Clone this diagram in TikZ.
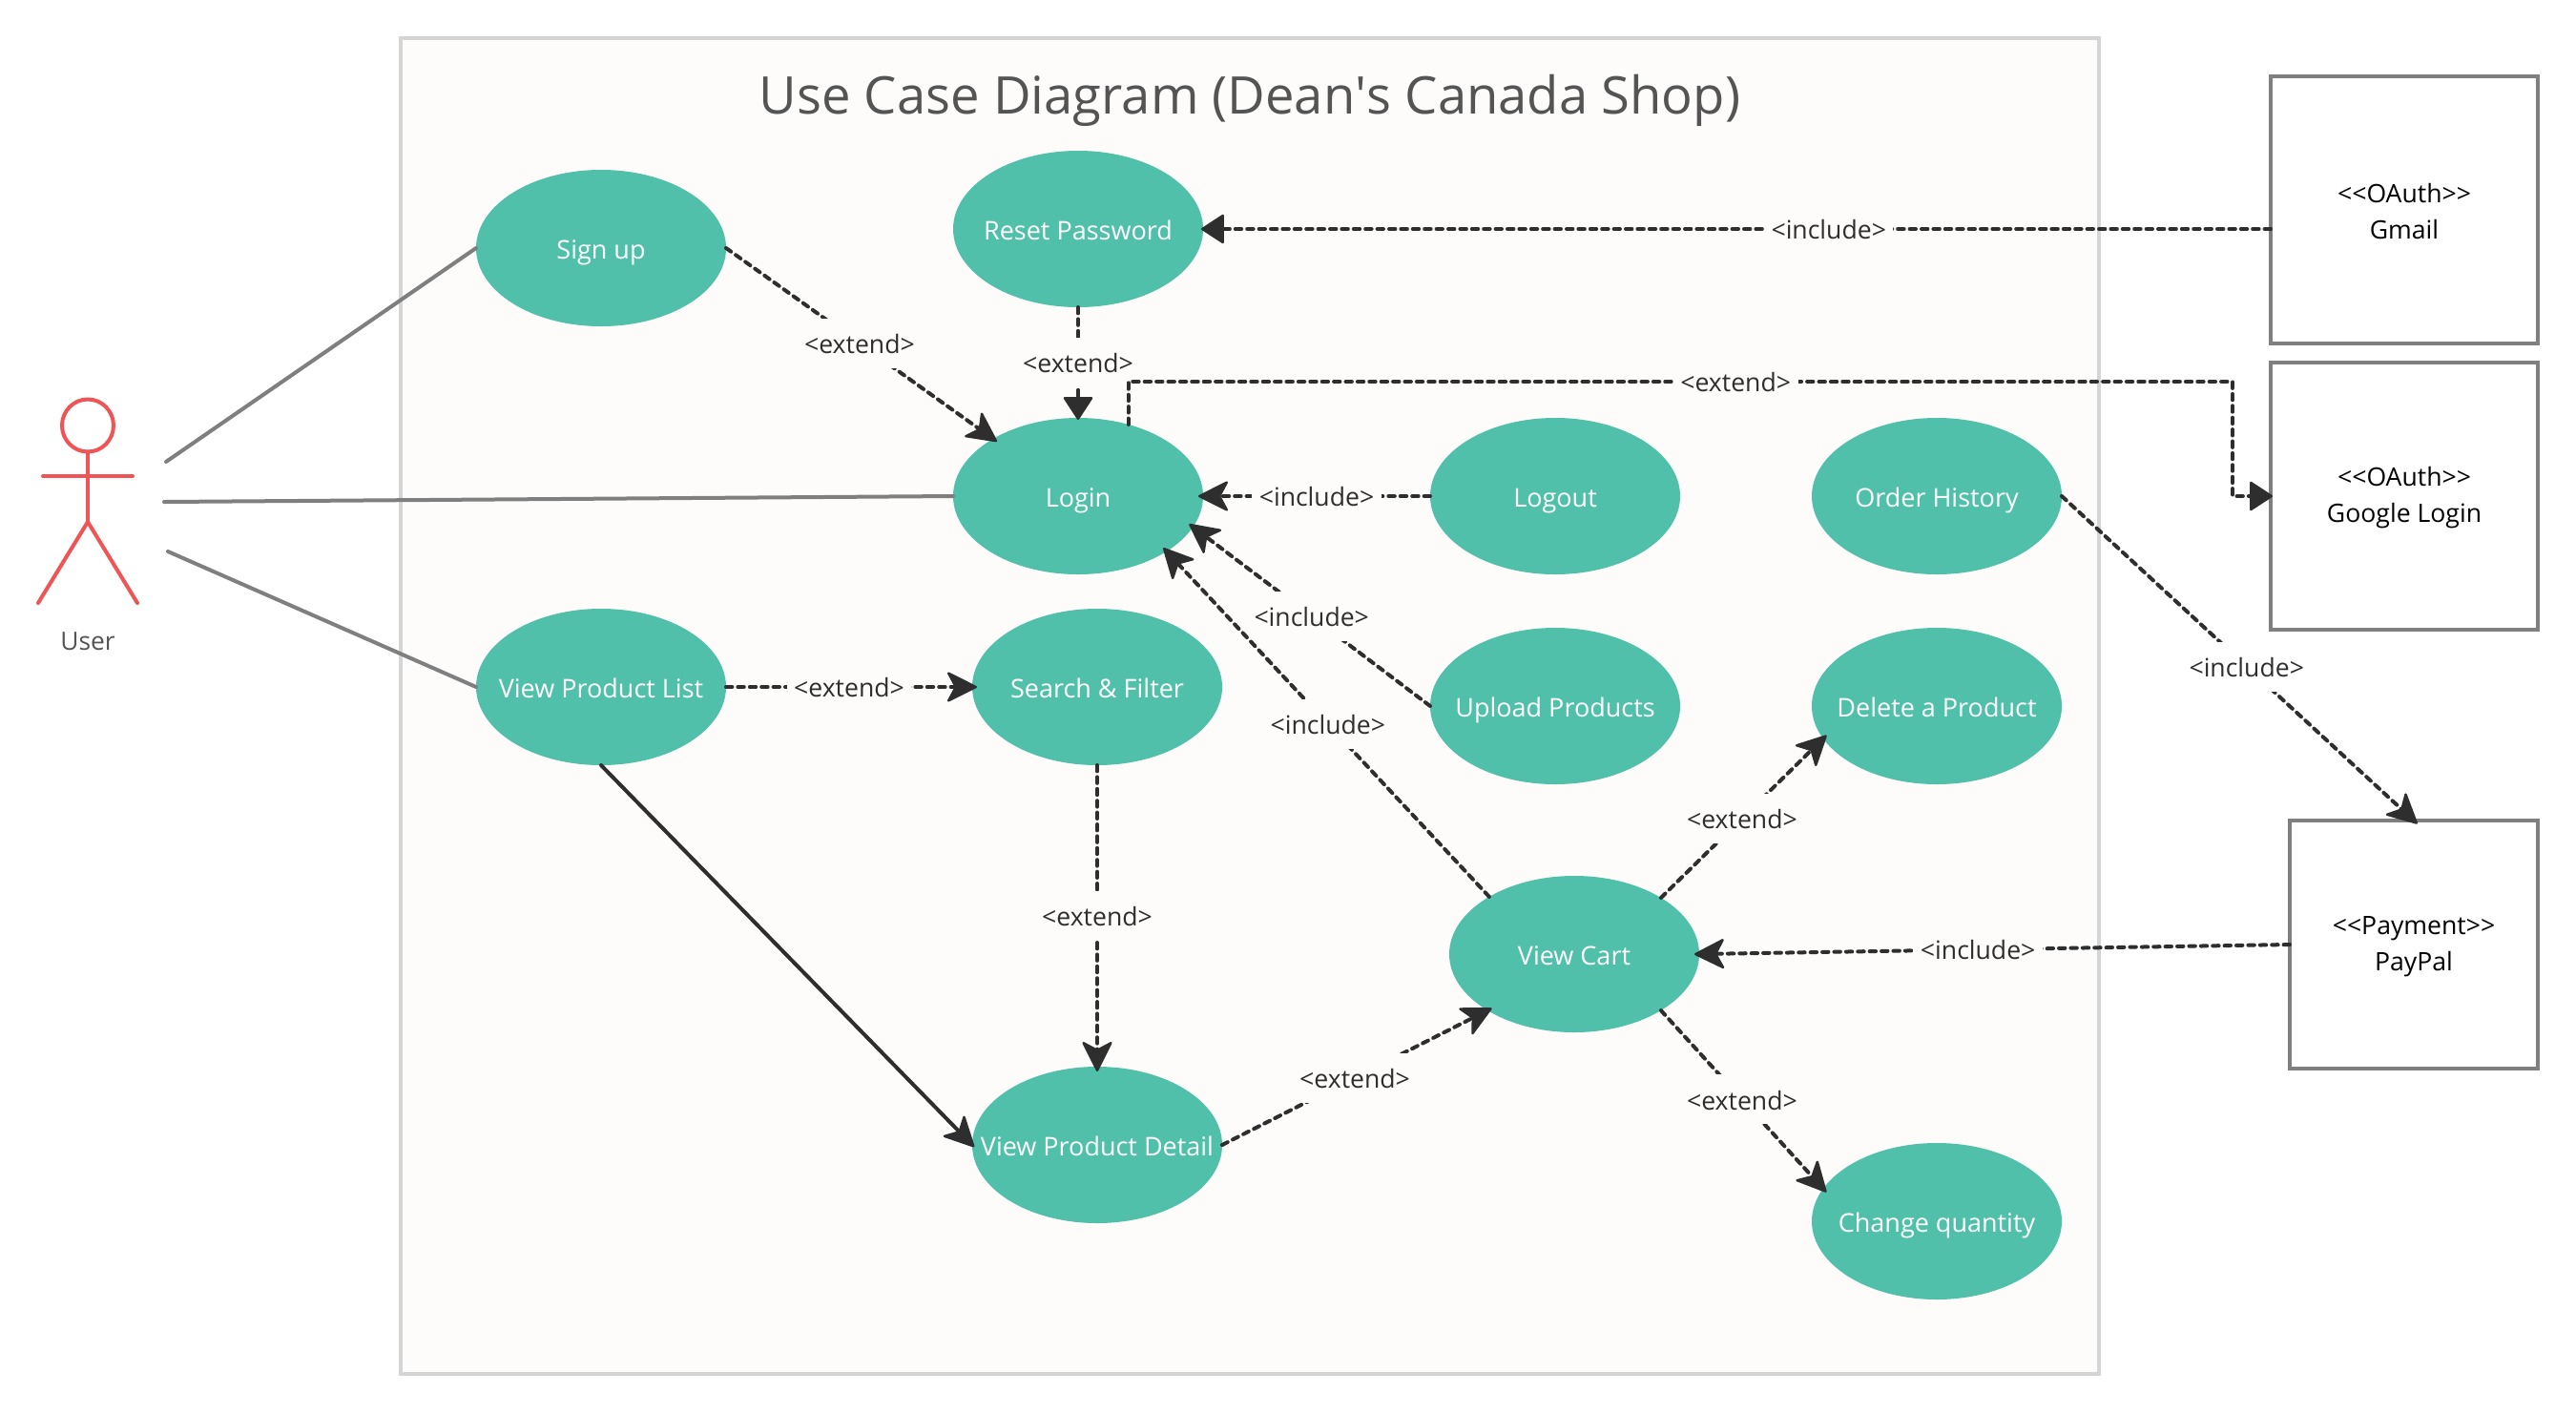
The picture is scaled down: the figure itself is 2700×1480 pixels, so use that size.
\documentclass[tikz,border=0pt]{standalone}
\usepackage{fontspec}
\setmainfont{Open Sans}
\usetikzlibrary{arrows.meta,shapes.geometric}
\definecolor{teal}{HTML}{51C0AA}
\definecolor{framebg}{HTML}{FDFCFA}
\definecolor{framedge}{HTML}{D5D5D5}
\definecolor{ink}{HTML}{2E2E2E}
\definecolor{actorred}{HTML}{F05454}
\definecolor{linegray}{HTML}{7F7F7F}
\tikzset{
  x=0.5pt,y=-0.5pt,
  usecase/.style={ellipse,fill=teal,text=white,minimum width=131pt,minimum height=82pt,inner sep=-40pt,outer sep=0pt,text height=11.5pt,text depth=0.5pt,font=\fontsize{13.5}{19}\selectfont},
  sysbox/.style={rectangle,draw=linegray,line width=2pt,fill=white,inner sep=0pt,outer sep=0pt,align=center,text=black,font=\fontsize{13.3}{19}\selectfont},
  assoc/.style={draw=linegray,line width=2pt,line cap=round},
  ext/.style={draw=ink,line width=2pt,line cap=round,line join=round,dash pattern=on 3.2pt off 3pt,shorten >=-2.5pt,-{Stealth[round,line width=1.2pt,length=17pt,width=17pt,inset=4.5pt]}},
  extflat/.style={draw=ink,line width=2pt,line cap=round,line join=round,dash pattern=on 3.2pt off 3pt,shorten >=-1pt,-{Stealth[round,line width=1.2pt,length=12.5pt,width=16pt,inset=0pt]}},
  solidarrow/.style={draw=ink,line width=2pt,line cap=round,shorten >=-1.5pt,-{Stealth[round,line width=1.2pt,length=17pt,width=17pt,inset=4.5pt]}},
  lbl/.style={fill=framebg,text=ink,inner xsep=3.75pt,inner ysep=7pt,text height=11.3pt,text depth=0.7pt,font=\fontsize{13.3}{16}\selectfont},
  lblout/.style={lbl,fill=white},
  actorline/.style={draw=actorred,line width=2pt,line cap=round},
}
\newcommand{\toplift}{\rule{0pt}{11.5pt}}
\begin{document}
\begin{tikzpicture}
\useasboundingbox (0,0) rectangle (2700,1480);
\fill[white] (0,0) rectangle (2700,1480);
\node[draw=framedge,line width=2pt,fill=framebg,minimum width=890pt,minimum height=700pt,inner sep=0pt,outer sep=0pt] (frame) at (1310,740) {};
\node[text=black!67,font=\fontsize{27.2}{32}\selectfont] (title) at (1310,105) {Use Case Diagram (Dean\textquotesingle s Canada Shop)};

% actor
\coordinate (headc) at (92,446);
\draw[actorline] (headc) circle[x radius=27,y radius=27.5];
\coordinate (neck) at (92,473.5);
\coordinate (hip) at (92,547);
\coordinate (armL) at (45,499);
\coordinate (armR) at (139,499);
\coordinate (footL) at (40,632);
\coordinate (footR) at (144,632);
\draw[actorline] (neck) -- (hip);
\draw[actorline] (armL) -- (armR);
\draw[actorline] (footL) -- (hip) -- (footR);
\node[text=black!67,font=\fontsize{13.2}{16}\selectfont] (user) at (92,672) {User};
\coordinate (u1) at (174,484);
\coordinate (u2) at (172,526);
\coordinate (u3) at (176,578);

% use cases
\node[usecase] (signup) at (630,260) {Sign up};
\node[usecase] (reset) at (1130,240) {Reset Password};
\node[usecase] (login) at (1130,520) {Login};
\node[usecase] (logout) at (1630,520) {Logout};
\node[usecase] (history) at (2030,520) {Order History};
\node[usecase] (list) at (630,720) {View Product List};
\node[usecase] (search) at (1150,720) {Search \& Filter};
\node[usecase] (upload) at (1630,740) {Upload Products};
\node[usecase] (delete) at (2030,740) {Delete a Product};
\node[usecase] (cart) at (1650,1000) {View Cart};
\node[usecase] (detail) at (1150,1200) {View Product Detail};
\node[usecase] (change) at (2030,1280) {Change quantity};

% external systems
\node[sysbox,minimum width=140pt,minimum height=140pt] (gmail) at (2520,220) {\toplift <{}<OAuth>{}>\\Gmail};
\node[sysbox,minimum width=140pt,minimum height=140pt] (google) at (2520,520) {\toplift <{}<OAuth>{}>\\Google Login};
\node[sysbox,minimum width=130pt,minimum height=130pt] (paypal) at (2530,990) {\toplift <{}<Payment>{}>\\PayPal};

% associations
\draw[assoc] (u1) -- (signup.west);
\draw[assoc] (u2) -- (login.west);
\draw[assoc] (u3) -- (list.west);

% dependencies
\path[extflat] (gmail.west |- reset.east) -- node[lbl,pos=.414] (l1) {<include>} (reset.east);
\path[extflat] (reset.south) -- node[lbl,pos=.5] (l2) {<extend>} (login.north);
\coordinate (g2) at (2340,400);
\coordinate (g3) at (2340,520);
\path[extflat] (login.55.3) -- (login.55.3 |- g2) -- node[lbl,pos=.55] (l3) {<extend>} (g2) -- (g3) -- (google.west);
\path[ext] (signup.east) -- node[lbl,pos=.5] (l4) {<extend>} (login.146);
\path[ext] (logout.west) -- node[lbl,pos=.5] (l5) {<include>} (login.east);
\path[ext] (upload.west) -- node[lbl,pos=.5] (l6) {<include>} (login.-15.5);
\path[ext] (cart.146) -- node[lbl,pos=.5] (l7) {<include>} (login.-32.8);
\path[ext] (list.east) -- node[lbl,pos=.5] (l8) {<extend>} (search.west);
\path[solidarrow] (list.south) -- (detail.west);
\path[ext] (search.south) -- node[lbl,pos=.5] (l9) {<extend>} (detail.north);
\path[ext] (detail.east) -- node[lbl,pos=.5] (l10) {<extend>} (cart.213);
\path[ext] (cart.33.7) -- node[lbl,pos=.5] (l11) {<extend>} (delete.196);
\path[ext] (cart.-33.7) -- node[lbl,pos=.5] (l12) {<extend>} (change.164);
\path[ext] (paypal.west) -- node[lbl,pos=.528] (l13) {<include>} (cart.east);
\path[ext] (history.east) -- node[lblout,pos=.525] (l14) {<include>} (paypal.north);
\end{tikzpicture}
\end{document}
